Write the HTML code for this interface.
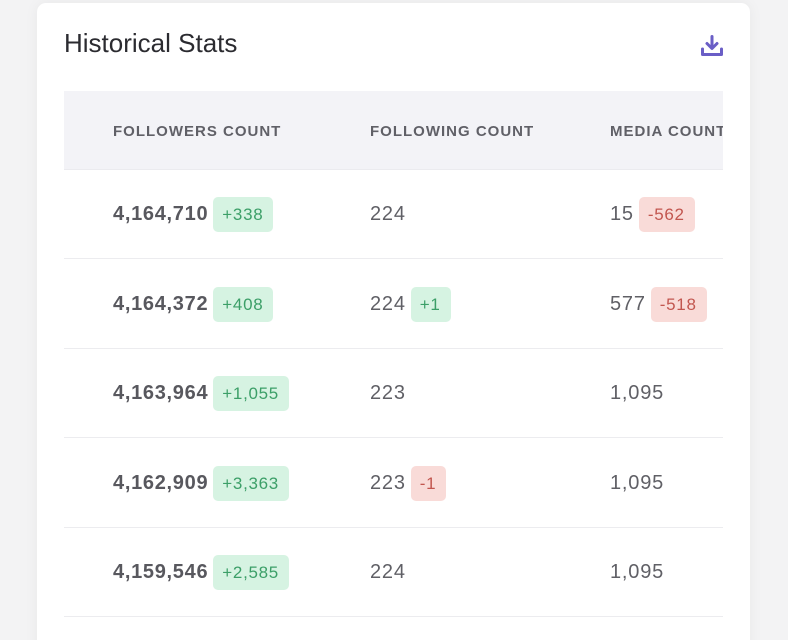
<!DOCTYPE html>
<html>
<head>
<meta charset="utf-8">
<style>
  html,body{margin:0;padding:0;width:788px;height:640px;overflow:hidden;}
  body{background:#f3f3f4;font-family:"Liberation Sans",Arial,sans-serif;position:relative;}
  .card{position:absolute;left:37px;top:3px;width:713px;height:660px;background:#fff;border-radius:9px;box-shadow:0 0 14px rgba(0,0,0,0.05);}
  .title{position:absolute;left:64px;top:30px;font-size:26px;line-height:26px;color:#2b2b30;white-space:nowrap;}
  .dl{position:absolute;left:700px;top:35px;width:24px;height:22px;}
  .table{position:absolute;left:64px;top:91px;width:659px;height:549px;overflow:hidden;}
  .head{position:absolute;left:0;top:0;width:659px;height:78px;background:#f3f3f7;border-bottom:1px solid #ebebef;}
  .h{position:absolute;top:2px;line-height:78px;font-size:15px;font-weight:bold;color:#606067;letter-spacing:1px;white-space:nowrap;}
  .row{position:absolute;left:0;width:659px;height:89px;border-bottom:1.5px solid #ececef;}
  .c{position:absolute;top:1px;height:89px;display:flex;align-items:center;white-space:nowrap;}
  .c1{left:49px;}
  .c2{left:306px;}
  .c3{left:546px;}
  .n{font-size:20px;letter-spacing:0.8px;color:#606066;}
  .nb{font-size:20px;letter-spacing:0.7px;color:#58585e;font-weight:bold;}
  .b{display:inline-block;height:35px;line-height:35px;padding:0 10px 0 9px;border-radius:5px;font-size:17px;letter-spacing:0.7px;margin-left:5px;}
  .g{background:#d6f3e2;color:#3c9f68;}
  .r{background:#f9dbd8;color:#c2564f;}
</style>
</head>
<body>
<div class="card"></div>
<div class="title">Historical Stats</div>
<svg class="dl" viewBox="0 0 24 22">
  <path d="M12 1.5 V13" stroke="#6a5ec6" stroke-width="3" fill="none" stroke-linecap="round"/>
  <path d="M7 8.5 L12 13.5 L17 8.5" stroke="#6a5ec6" stroke-width="3" fill="none" stroke-linecap="round" stroke-linejoin="round"/>
  <path d="M2.5 14 V19.5 H21.5 V14" stroke="#6a5ec6" stroke-width="3" fill="none" stroke-linecap="round" stroke-linejoin="round"/>
</svg>
<div class="table">
  <div class="head">
    <div class="h" style="left:49px;">FOLLOWERS COUNT</div>
    <div class="h" style="left:306px;">FOLLOWING COUNT</div>
    <div class="h" style="left:546px;">MEDIA COUNT</div>
  </div>
  <div class="row" style="top:78px;">
    <div class="c c1"><span class="nb">4,164,710</span><span class="b g">+338</span></div>
    <div class="c c2"><span class="n">224</span></div>
    <div class="c c3"><span class="n">15</span><span class="b r">-562</span></div>
  </div>
  <div class="row" style="top:167.5px;">
    <div class="c c1"><span class="nb">4,164,372</span><span class="b g">+408</span></div>
    <div class="c c2"><span class="n">224</span><span class="b g">+1</span></div>
    <div class="c c3"><span class="n">577</span><span class="b r">-518</span></div>
  </div>
  <div class="row" style="top:257px;">
    <div class="c c1"><span class="nb">4,163,964</span><span class="b g">+1,055</span></div>
    <div class="c c2"><span class="n">223</span></div>
    <div class="c c3"><span class="n">1,095</span></div>
  </div>
  <div class="row" style="top:346.5px;">
    <div class="c c1"><span class="nb">4,162,909</span><span class="b g">+3,363</span></div>
    <div class="c c2"><span class="n">223</span><span class="b r">-1</span></div>
    <div class="c c3"><span class="n">1,095</span></div>
  </div>
  <div class="row" style="top:436px;">
    <div class="c c1"><span class="nb">4,159,546</span><span class="b g">+2,585</span></div>
    <div class="c c2"><span class="n">224</span></div>
    <div class="c c3"><span class="n">1,095</span></div>
  </div>
</div>
</body>
</html>
